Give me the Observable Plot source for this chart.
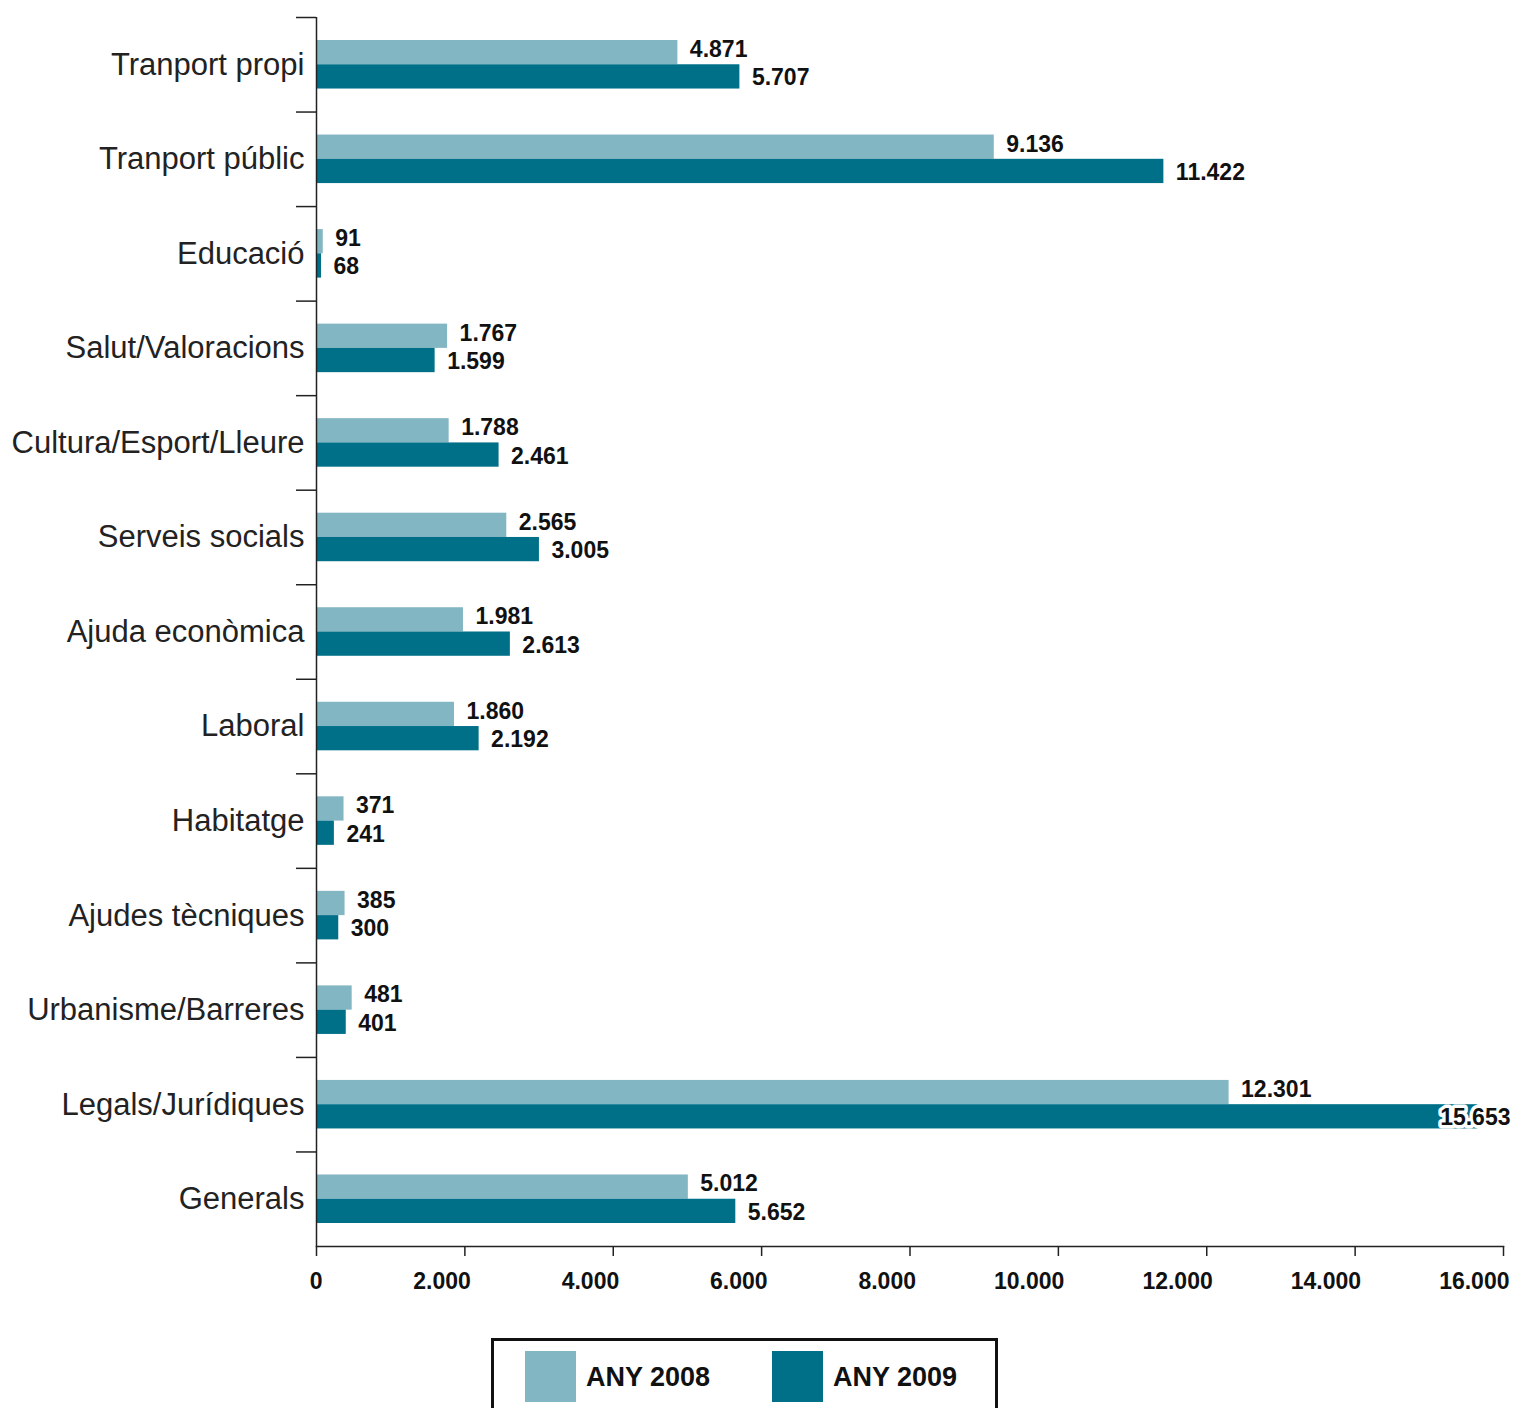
<!DOCTYPE html>
<html>
<head>
<meta charset="utf-8">
<script src="https://cdn.jsdelivr.net/npm/d3@7"></script>
<script src="https://cdn.jsdelivr.net/npm/@observablehq/plot@0.6"></script>
<style>
  html, body { margin: 0; padding: 0; background: #fff; overflow: hidden; }
  body { font-family: "Liberation Sans", Arial, Helvetica, sans-serif; }
  #wrap { position: relative; width: 1515px; height: 1408px; }
  #chart svg { display: block; }
  #legend {
    position: absolute; left: 491px; top: 1338px; width: 501px; height: 90px;
    border: 3px solid #111; box-sizing: content-box;
  }
  .sw { position: absolute; top: 10px; width: 51px; height: 51px; }
  .lt { position: absolute; top: 20px; font-weight: bold; font-size: 27px; color: #111; line-height: 32px; }
</style>
</head>
<body>
<div id="wrap">
  <div id="chart"></div>
  <div id="legend"></div>
</div>
<script>
const categories = [
  "Tranport propi", "Tranport públic", "Educació", "Salut/Valoracions",
  "Cultura/Esport/Lleure", "Serveis socials", "Ajuda econòmica", "Laboral",
  "Habitatge", "Ajudes tècniques", "Urbanisme/Barreres", "Legals/Jurídiques", "Generals"
];
const values2008 = [4871, 9136, 91, 1767, 1788, 2565, 1981, 1860, 371, 385, 481, 12301, 5012];
const values2009 = [5707, 11422, 68, 1599, 2461, 3005, 2613, 2192, 241, 300, 401, 15653, 5652];
const seriesNames = ["ANY 2008", "ANY 2009"];
const seriesColors = ["#83b6c3", "#006f88"];
const xTicks = [0, 2000, 4000, 6000, 8000, 10000, 12000, 14000, 16000];

const loc = d3.formatLocale({decimal: ",", thousands: ".", grouping: [3], currency: ["", " €"]});
const fmt = loc.format(",d");

const data = [];
categories.forEach((c, i) => {
  data.push({cat: c, series: seriesNames[0], value: values2008[i]});
  data.push({cat: c, series: seriesNames[1], value: values2009[i]});
});
const d08 = data.filter(d => d.series === seriesNames[0]);
const d09 = data.filter(d => d.series === seriesNames[1]);

const W = 1515, H = 1320, mL = 316, mR = 12, mT = 17, mB = H - 1246;
const bw = (H - mT - mB) / categories.length;
const fontFam = "Liberation Sans, Arial, Helvetica, sans-serif";
const limit = 15000;
const lblFont = 23;

const chart = Plot.plot({
  width: W, height: H,
  marginLeft: mL, marginRight: mR, marginTop: mT, marginBottom: mB,
  style: {fontFamily: fontFam, color: "#111", background: "#fff"},
  x: {domain: [0, 16000], ticks: xTicks, tickFormat: fmt, label: null},
  y: {domain: categories, padding: 0, round: false, label: null},
  marks: [
    Plot.barX(d08, {y: "cat", x: "value", fill: seriesColors[0], insetTop: bw * 0.2433, insetBottom: bw * 0.5}),
    Plot.barX(d09, {y: "cat", x: "value", fill: seriesColors[1], insetTop: bw * 0.5, insetBottom: bw * 0.2433}),
    Plot.text(d08, {y: "cat", x: "value", text: d => fmt(d.value), textAnchor: "start", dx: 12, dy: -bw * 0.16,
      fontSize: lblFont, fontWeight: "bold", fill: "#111"}),
    Plot.text(d09.filter(d => d.value < limit), {y: "cat", x: "value", text: d => fmt(d.value), textAnchor: "start", dx: 12, dy: bw * 0.14,
      fontSize: lblFont, fontWeight: "bold", fill: "#111"}),
    Plot.text(d09.filter(d => d.value >= limit), {y: "cat", frameAnchor: "right", text: d => fmt(d.value), textAnchor: "end", dx: 7, dy: bw * 0.14,
      fontSize: lblFont, fontWeight: "bold", fill: "#111", stroke: "#fff", strokeWidth: 7, strokeLinejoin: "round"}),
    Plot.axisY({tickSize: 0, tickPadding: 12, fontSize: 31, fill: "#222", label: null}),
    Plot.axisY({tickSize: 20, text: null, dy: -bw / 2, stroke: "#222", strokeWidth: 1.5, label: null}),
    Plot.axisX({ticks: xTicks, text: null, tickSize: 10, stroke: "#222", strokeWidth: 1.5, label: null}),
    Plot.axisX({ticks: xTicks, tickFormat: fmt, tickSize: 0, tickPadding: 26, textAnchor: "end", dx: 6,
      fontSize: lblFont, fontWeight: "bold", fill: "#111", label: null}),
    Plot.frame({anchor: "bottom", stroke: "#222", strokeWidth: 1.5}),
    Plot.ruleX([0], {stroke: "#222", strokeWidth: 1.5})
  ]
});
document.getElementById("chart").appendChild(chart);

const legend = document.getElementById("legend");
const swLeft = [31, 278];
const txLeft = [92, 339];
seriesNames.forEach((s, i) => {
  const sw = document.createElement("div");
  sw.className = "sw"; sw.style.left = swLeft[i] + "px"; sw.style.background = seriesColors[i];
  legend.appendChild(sw);
  const t = document.createElement("div");
  t.className = "lt"; t.style.left = txLeft[i] + "px"; t.textContent = s;
  legend.appendChild(t);
});
</script>
</body>
</html>
